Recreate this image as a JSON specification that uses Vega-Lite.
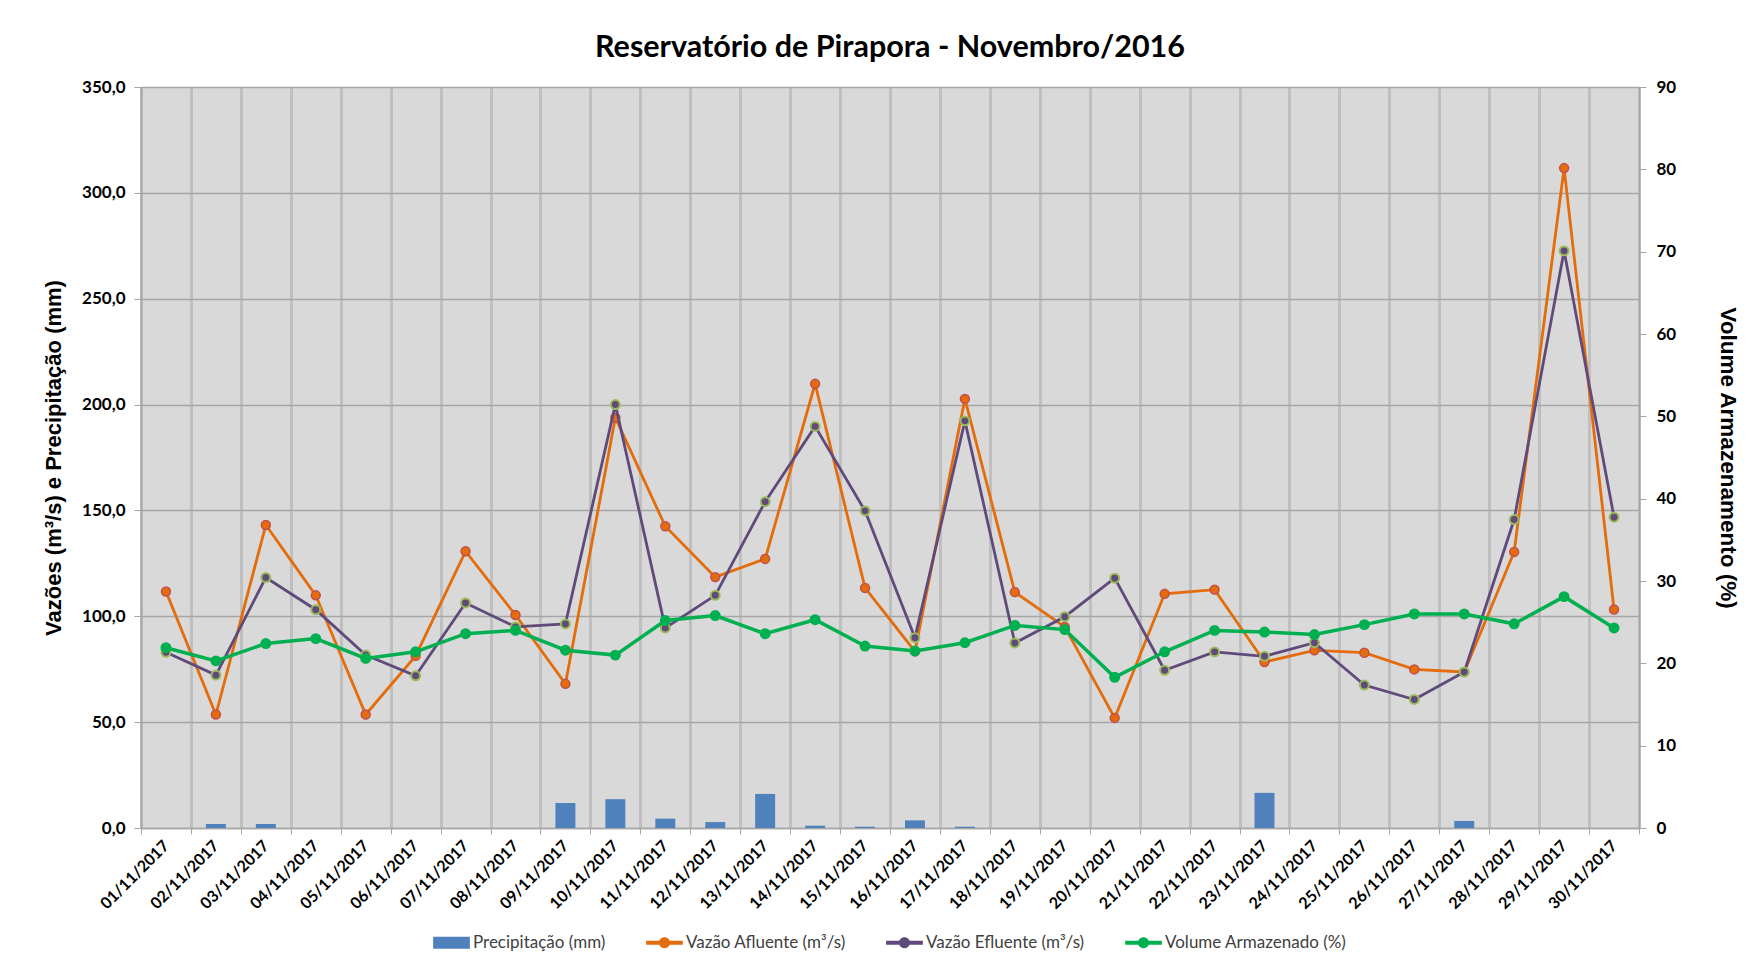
{
  "$schema": "https://vega.github.io/schema/vega-lite/v6.json",
  "autosize": {"type": "none"},
  "width": 1498,
  "height": 741,
  "padding": {"left": 141, "top": 87, "right": 114, "bottom": 136},
  "background": "white",
  "config": {
    "view": {"fill": "#D9D9D9", "stroke": null},
    "axis": {"labelFont": "Lato", "labelFontWeight": "bold", "labelColor": "#000000", "titleFont": "Liberation Sans", "titleFontWeight": "bold", "titleColor": "#000000"},
    "legend": {"layout": {"bottom": {"anchor": "middle"}}}
  },
  "title": {"text": "Reservatório de Pirapora - Novembro/2016", "font": "Lato", "fontSize": 30.5, "fontWeight": "bold", "anchor": "middle", "offset": 15, "color": "#000000"},
  "data": {"values": [
    {"dia": "01/11/2017", "serie": "Precipitação (mm)", "valor": 0},
    {"dia": "02/11/2017", "serie": "Precipitação (mm)", "valor": 1.9},
    {"dia": "03/11/2017", "serie": "Precipitação (mm)", "valor": 1.9},
    {"dia": "04/11/2017", "serie": "Precipitação (mm)", "valor": 0},
    {"dia": "05/11/2017", "serie": "Precipitação (mm)", "valor": 0},
    {"dia": "06/11/2017", "serie": "Precipitação (mm)", "valor": 0},
    {"dia": "07/11/2017", "serie": "Precipitação (mm)", "valor": 0},
    {"dia": "08/11/2017", "serie": "Precipitação (mm)", "valor": 0},
    {"dia": "09/11/2017", "serie": "Precipitação (mm)", "valor": 11.8},
    {"dia": "10/11/2017", "serie": "Precipitação (mm)", "valor": 13.6},
    {"dia": "11/11/2017", "serie": "Precipitação (mm)", "valor": 4.4},
    {"dia": "12/11/2017", "serie": "Precipitação (mm)", "valor": 2.8},
    {"dia": "13/11/2017", "serie": "Precipitação (mm)", "valor": 16.1},
    {"dia": "14/11/2017", "serie": "Precipitação (mm)", "valor": 1.1},
    {"dia": "15/11/2017", "serie": "Precipitação (mm)", "valor": 0.6},
    {"dia": "16/11/2017", "serie": "Precipitação (mm)", "valor": 3.6},
    {"dia": "17/11/2017", "serie": "Precipitação (mm)", "valor": 0.6},
    {"dia": "18/11/2017", "serie": "Precipitação (mm)", "valor": 0},
    {"dia": "19/11/2017", "serie": "Precipitação (mm)", "valor": 0},
    {"dia": "20/11/2017", "serie": "Precipitação (mm)", "valor": 0},
    {"dia": "21/11/2017", "serie": "Precipitação (mm)", "valor": 0},
    {"dia": "22/11/2017", "serie": "Precipitação (mm)", "valor": 0},
    {"dia": "23/11/2017", "serie": "Precipitação (mm)", "valor": 16.6},
    {"dia": "24/11/2017", "serie": "Precipitação (mm)", "valor": 0},
    {"dia": "25/11/2017", "serie": "Precipitação (mm)", "valor": 0},
    {"dia": "26/11/2017", "serie": "Precipitação (mm)", "valor": 0},
    {"dia": "27/11/2017", "serie": "Precipitação (mm)", "valor": 3.3},
    {"dia": "28/11/2017", "serie": "Precipitação (mm)", "valor": 0},
    {"dia": "29/11/2017", "serie": "Precipitação (mm)", "valor": 0},
    {"dia": "30/11/2017", "serie": "Precipitação (mm)", "valor": 0},
    {"dia": "01/11/2017", "serie": "Vazão Afluente (m³/s)", "valor": 111.7},
    {"dia": "02/11/2017", "serie": "Vazão Afluente (m³/s)", "valor": 53.6},
    {"dia": "03/11/2017", "serie": "Vazão Afluente (m³/s)", "valor": 143.1},
    {"dia": "04/11/2017", "serie": "Vazão Afluente (m³/s)", "valor": 109.9},
    {"dia": "05/11/2017", "serie": "Vazão Afluente (m³/s)", "valor": 53.6},
    {"dia": "06/11/2017", "serie": "Vazão Afluente (m³/s)", "valor": 81.3},
    {"dia": "07/11/2017", "serie": "Vazão Afluente (m³/s)", "valor": 130.7},
    {"dia": "08/11/2017", "serie": "Vazão Afluente (m³/s)", "valor": 100.6},
    {"dia": "09/11/2017", "serie": "Vazão Afluente (m³/s)", "valor": 68.1},
    {"dia": "10/11/2017", "serie": "Vazão Afluente (m³/s)", "valor": 193.8},
    {"dia": "11/11/2017", "serie": "Vazão Afluente (m³/s)", "valor": 142.5},
    {"dia": "12/11/2017", "serie": "Vazão Afluente (m³/s)", "valor": 118.5},
    {"dia": "13/11/2017", "serie": "Vazão Afluente (m³/s)", "valor": 127.1},
    {"dia": "14/11/2017", "serie": "Vazão Afluente (m³/s)", "valor": 209.8},
    {"dia": "15/11/2017", "serie": "Vazão Afluente (m³/s)", "valor": 113.4},
    {"dia": "16/11/2017", "serie": "Vazão Afluente (m³/s)", "valor": 83.4},
    {"dia": "17/11/2017", "serie": "Vazão Afluente (m³/s)", "valor": 202.7},
    {"dia": "18/11/2017", "serie": "Vazão Afluente (m³/s)", "valor": 111.4},
    {"dia": "19/11/2017", "serie": "Vazão Afluente (m³/s)", "valor": 95.0},
    {"dia": "20/11/2017", "serie": "Vazão Afluente (m³/s)", "valor": 52.0},
    {"dia": "21/11/2017", "serie": "Vazão Afluente (m³/s)", "valor": 110.6},
    {"dia": "22/11/2017", "serie": "Vazão Afluente (m³/s)", "valor": 112.6},
    {"dia": "23/11/2017", "serie": "Vazão Afluente (m³/s)", "valor": 78.4},
    {"dia": "24/11/2017", "serie": "Vazão Afluente (m³/s)", "valor": 83.9},
    {"dia": "25/11/2017", "serie": "Vazão Afluente (m³/s)", "valor": 82.8},
    {"dia": "26/11/2017", "serie": "Vazão Afluente (m³/s)", "valor": 74.9},
    {"dia": "27/11/2017", "serie": "Vazão Afluente (m³/s)", "valor": 73.7},
    {"dia": "28/11/2017", "serie": "Vazão Afluente (m³/s)", "valor": 130.4},
    {"dia": "29/11/2017", "serie": "Vazão Afluente (m³/s)", "valor": 311.7},
    {"dia": "30/11/2017", "serie": "Vazão Afluente (m³/s)", "valor": 103.2},
    {"dia": "01/11/2017", "serie": "Vazão Efluente (m³/s)", "valor": 83.0},
    {"dia": "02/11/2017", "serie": "Vazão Efluente (m³/s)", "valor": 72.2},
    {"dia": "03/11/2017", "serie": "Vazão Efluente (m³/s)", "valor": 118.3},
    {"dia": "04/11/2017", "serie": "Vazão Efluente (m³/s)", "valor": 103.1},
    {"dia": "05/11/2017", "serie": "Vazão Efluente (m³/s)", "valor": 81.7},
    {"dia": "06/11/2017", "serie": "Vazão Efluente (m³/s)", "valor": 71.9},
    {"dia": "07/11/2017", "serie": "Vazão Efluente (m³/s)", "valor": 106.3},
    {"dia": "08/11/2017", "serie": "Vazão Efluente (m³/s)", "valor": 95.0},
    {"dia": "09/11/2017", "serie": "Vazão Efluente (m³/s)", "valor": 96.4},
    {"dia": "10/11/2017", "serie": "Vazão Efluente (m³/s)", "valor": 200.0},
    {"dia": "11/11/2017", "serie": "Vazão Efluente (m³/s)", "valor": 94.5},
    {"dia": "12/11/2017", "serie": "Vazão Efluente (m³/s)", "valor": 109.9},
    {"dia": "13/11/2017", "serie": "Vazão Efluente (m³/s)", "valor": 154.1},
    {"dia": "14/11/2017", "serie": "Vazão Efluente (m³/s)", "valor": 189.7},
    {"dia": "15/11/2017", "serie": "Vazão Efluente (m³/s)", "valor": 149.8},
    {"dia": "16/11/2017", "serie": "Vazão Efluente (m³/s)", "valor": 89.9},
    {"dia": "17/11/2017", "serie": "Vazão Efluente (m³/s)", "valor": 192.3},
    {"dia": "18/11/2017", "serie": "Vazão Efluente (m³/s)", "valor": 87.4},
    {"dia": "19/11/2017", "serie": "Vazão Efluente (m³/s)", "valor": 99.8},
    {"dia": "20/11/2017", "serie": "Vazão Efluente (m³/s)", "valor": 118.0},
    {"dia": "21/11/2017", "serie": "Vazão Efluente (m³/s)", "valor": 74.5},
    {"dia": "22/11/2017", "serie": "Vazão Efluente (m³/s)", "valor": 83.2},
    {"dia": "23/11/2017", "serie": "Vazão Efluente (m³/s)", "valor": 81.1},
    {"dia": "24/11/2017", "serie": "Vazão Efluente (m³/s)", "valor": 87.5},
    {"dia": "25/11/2017", "serie": "Vazão Efluente (m³/s)", "valor": 67.5},
    {"dia": "26/11/2017", "serie": "Vazão Efluente (m³/s)", "valor": 60.7},
    {"dia": "27/11/2017", "serie": "Vazão Efluente (m³/s)", "valor": 73.7},
    {"dia": "28/11/2017", "serie": "Vazão Efluente (m³/s)", "valor": 145.7},
    {"dia": "29/11/2017", "serie": "Vazão Efluente (m³/s)", "valor": 272.6},
    {"dia": "30/11/2017", "serie": "Vazão Efluente (m³/s)", "valor": 146.8},
    {"dia": "01/11/2017", "serie": "Volume Armazenado (%)", "valor": 21.9},
    {"dia": "02/11/2017", "serie": "Volume Armazenado (%)", "valor": 20.3},
    {"dia": "03/11/2017", "serie": "Volume Armazenado (%)", "valor": 22.4},
    {"dia": "04/11/2017", "serie": "Volume Armazenado (%)", "valor": 23.0},
    {"dia": "05/11/2017", "serie": "Volume Armazenado (%)", "valor": 20.6},
    {"dia": "06/11/2017", "serie": "Volume Armazenado (%)", "valor": 21.4},
    {"dia": "07/11/2017", "serie": "Volume Armazenado (%)", "valor": 23.6},
    {"dia": "08/11/2017", "serie": "Volume Armazenado (%)", "valor": 24.0},
    {"dia": "09/11/2017", "serie": "Volume Armazenado (%)", "valor": 21.6},
    {"dia": "10/11/2017", "serie": "Volume Armazenado (%)", "valor": 21.0},
    {"dia": "11/11/2017", "serie": "Volume Armazenado (%)", "valor": 25.2},
    {"dia": "12/11/2017", "serie": "Volume Armazenado (%)", "valor": 25.8},
    {"dia": "13/11/2017", "serie": "Volume Armazenado (%)", "valor": 23.6},
    {"dia": "14/11/2017", "serie": "Volume Armazenado (%)", "valor": 25.3},
    {"dia": "15/11/2017", "serie": "Volume Armazenado (%)", "valor": 22.1},
    {"dia": "16/11/2017", "serie": "Volume Armazenado (%)", "valor": 21.5},
    {"dia": "17/11/2017", "serie": "Volume Armazenado (%)", "valor": 22.5},
    {"dia": "18/11/2017", "serie": "Volume Armazenado (%)", "valor": 24.6},
    {"dia": "19/11/2017", "serie": "Volume Armazenado (%)", "valor": 24.1},
    {"dia": "20/11/2017", "serie": "Volume Armazenado (%)", "valor": 18.3},
    {"dia": "21/11/2017", "serie": "Volume Armazenado (%)", "valor": 21.4},
    {"dia": "22/11/2017", "serie": "Volume Armazenado (%)", "valor": 24.0},
    {"dia": "23/11/2017", "serie": "Volume Armazenado (%)", "valor": 23.8},
    {"dia": "24/11/2017", "serie": "Volume Armazenado (%)", "valor": 23.5},
    {"dia": "25/11/2017", "serie": "Volume Armazenado (%)", "valor": 24.7},
    {"dia": "26/11/2017", "serie": "Volume Armazenado (%)", "valor": 26.0},
    {"dia": "27/11/2017", "serie": "Volume Armazenado (%)", "valor": 26.0},
    {"dia": "28/11/2017", "serie": "Volume Armazenado (%)", "valor": 24.8},
    {"dia": "29/11/2017", "serie": "Volume Armazenado (%)", "valor": 28.1},
    {"dia": "30/11/2017", "serie": "Volume Armazenado (%)", "valor": 24.3}
  ]},
  "encoding": {
    "x": {
      "field": "dia", "type": "nominal", "sort": null, "title": null,
      "scale": {"type": "band", "paddingInner": 0, "paddingOuter": 0},
      "axis": {"labelAngle": -45, "labelAlign": "right", "labelBaseline": "middle", "tickBand": "extent", "grid": true, "gridColor": "#BFBFBF", "gridWidth": 3, "domainColor": "#A6A6A6", "domainWidth": 1.5, "tickColor": "#A6A6A6", "tickSize": 6, "labelFontSize": 16, "labelPadding": 9}
    }
  },
  "layer": [
    {
      "layer": [
        {
          "transform": [{"filter": "datum.serie === 'Precipitação (mm)'"}],
          "mark": {"type": "bar", "width": {"band": 0.4}},
          "encoding": {
            "y": {
              "field": "valor", "type": "quantitative",
              "scale": {"domain": [0, 350], "nice": false},
              "axis": {"title": "Vazões (m³/s) e Precipitação (mm)", "titleFontSize": 22, "titlePadding": 16, "values": [0, 50, 100, 150, 200, 250, 300, 350], "labelExpr": "replace(format(datum.value, '.1f'), '.', ',')", "labelFontSize": 17, "grid": true, "gridColor": "#A6A6A6", "gridWidth": 1.5, "domainColor": "#A6A6A6", "domainWidth": 1.5, "tickColor": "#A6A6A6", "tickSize": 7, "labelPadding": 9}
            },
            "color": {
              "field": "serie", "type": "nominal",
              "scale": {"domain": ["Precipitação (mm)", "Vazão Afluente (m³/s)", "Vazão Efluente (m³/s)", "Volume Armazenado (%)"], "range": ["#4F81BD", "#E46C0A", "#604A7B", "#00B050"]},
              "legend": {"orient": "bottom", "direction": "horizontal", "title": null, "labelFont": "Lato", "labelFontSize": 17, "labelLimit": 0, "labelColor": "#404040", "symbolSize": 1350, "symbolStrokeWidth": 0, "columnPadding": 40, "labelOffset": 3, "offset": 12,
                "encode": {"symbols": {"update": {"fill": {"scale": "color", "field": "value"}, "stroke": {"value": "transparent"}, "opacity": {"value": 1}}}}}
            }
          }
        },
        {
          "transform": [{"filter": "datum.serie === 'Vazão Afluente (m³/s)'"}],
          "mark": {"type": "line", "strokeWidth": 2.8},
          "encoding": {"y": {"field": "valor", "type": "quantitative"}, "color": {"field": "serie", "type": "nominal"}}
        },
        {
          "transform": [{"filter": "datum.serie === 'Vazão Afluente (m³/s)'"}],
          "mark": {"type": "point", "filled": true, "size": 80, "fill": "#E46C0A", "stroke": "#C0504D", "strokeWidth": 1.5, "opacity": 1},
          "encoding": {"y": {"field": "valor", "type": "quantitative"}}
        },
        {
          "transform": [{"filter": "datum.serie === 'Vazão Efluente (m³/s)'"}],
          "mark": {"type": "line", "strokeWidth": 2.8},
          "encoding": {"y": {"field": "valor", "type": "quantitative"}, "color": {"field": "serie", "type": "nominal"}}
        },
        {
          "transform": [{"filter": "datum.serie === 'Vazão Efluente (m³/s)'"}],
          "mark": {"type": "point", "filled": true, "size": 80, "fill": "#604A7B", "stroke": "#9BBB59", "strokeWidth": 2, "opacity": 1},
          "encoding": {"y": {"field": "valor", "type": "quantitative"}}
        },
        {
          "mark": {"type": "point", "filled": true, "size": 0},
          "encoding": {
            "y": {"field": "valor", "type": "quantitative"},
            "color": {"field": "serie", "type": "nominal"},
            "shape": {"field": "serie", "type": "nominal", "scale": {"domain": ["Precipitação (mm)", "Vazão Afluente (m³/s)", "Vazão Efluente (m³/s)", "Volume Armazenado (%)"], "range": ["M-1,-0.32H1V0.32H-1Z", "M-1,-0.11H1V0.11H-1Z M0.3,0A0.3,0.3 0 1,1 -0.3,0A0.3,0.3 0 1,1 0.3,0Z", "M-1,-0.11H1V0.11H-1Z M0.3,0A0.3,0.3 0 1,1 -0.3,0A0.3,0.3 0 1,1 0.3,0Z", "M-1,-0.11H1V0.11H-1Z M0.3,0A0.3,0.3 0 1,1 -0.3,0A0.3,0.3 0 1,1 0.3,0Z"]}}
          }
        }
      ]
    },
    {
      "transform": [{"filter": "datum.serie === 'Volume Armazenado (%)'"}],
      "encoding": {
        "y": {
          "field": "valor", "type": "quantitative",
          "scale": {"domain": [0, 90], "nice": false},
          "axis": {"orient": "right", "title": "Volume Armazenamento (%)", "titleFontSize": 22.5, "titlePadding": 40, "values": [0, 10, 20, 30, 40, 50, 60, 70, 80, 90], "labelFontSize": 17, "grid": false, "domainColor": "#A6A6A6", "domainWidth": 1.5, "tickColor": "#A6A6A6", "tickSize": 7, "labelPadding": 10}
        }
      },
      "layer": [
        {"mark": {"type": "line", "strokeWidth": 3.5}, "encoding": {"color": {"field": "serie", "type": "nominal"}}},
        {"mark": {"type": "point", "filled": true, "size": 80, "fill": "#00B050", "stroke": "#00B050", "opacity": 1}}
      ]
    }
  ],
  "resolve": {"scale": {"y": "independent"}}
}
